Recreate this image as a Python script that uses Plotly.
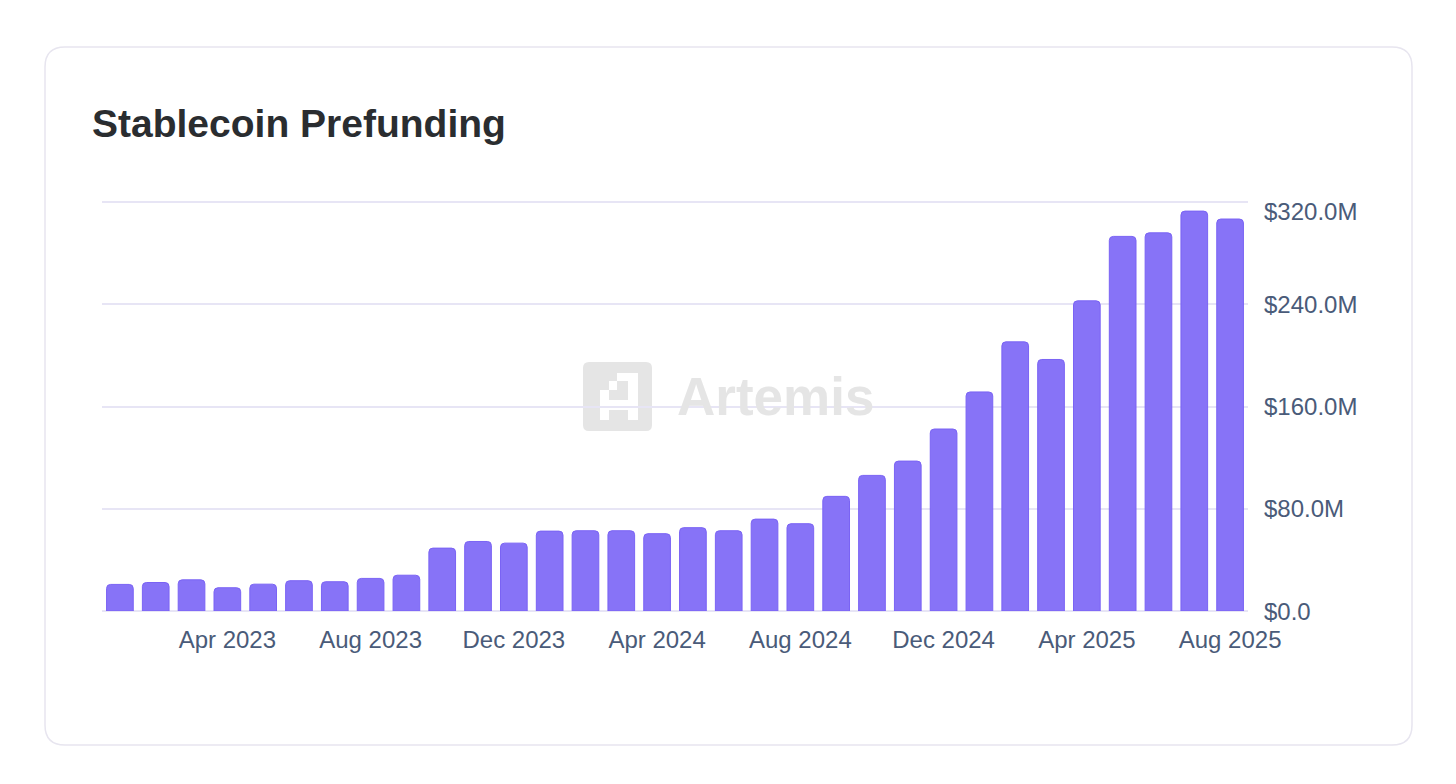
import plotly.graph_objects as go

# monthly stablecoin prefunding, USD millions
months = [
    "Jan 2023", "Feb 2023", "Mar 2023", "Apr 2023", "May 2023", "Jun 2023",
    "Jul 2023", "Aug 2023", "Sep 2023", "Oct 2023", "Nov 2023", "Dec 2023",
    "Jan 2024", "Feb 2024", "Mar 2024", "Apr 2024", "May 2024", "Jun 2024",
    "Jul 2024", "Aug 2024", "Sep 2024", "Oct 2024", "Nov 2024", "Dec 2024",
    "Jan 2025", "Feb 2025", "Mar 2025", "Apr 2025", "May 2025", "Jun 2025",
    "Jul 2025", "Aug 2025",
]
prefunding = [
    20.8, 22.3, 24.4, 18.2, 21.0, 23.7, 22.9, 25.5, 28.0, 49.2, 54.4, 53.1,
    62.5, 62.8, 62.8, 60.5, 65.2, 62.8, 71.9, 68.3, 89.7, 106.1, 117.3, 142.4,
    171.4, 210.6, 196.8, 242.7, 293.1, 295.9, 312.9, 306.7,
]
x_ticks = ["Apr 2023", "Aug 2023", "Dec 2023", "Apr 2024",
           "Aug 2024", "Dec 2024", "Apr 2025", "Aug 2025"]
y_ticks = [0, 80, 160, 240, 320]
y_tick_labels = ["$0.0", "$80.0M", "$160.0M", "$240.0M", "$320.0M"]

W, H = 1456, 784
L, R, T, B = 102, 1248, 201, 611  # plot area in pixels
Y_MAX = 320.8  # a hair above the top tick so its gridline is drawn
FONT = "Liberation Sans, Arial, sans-serif"


def px_x(x):
    return (x - L) / (R - L)


def px_y(y):
    return (B - y) / (B - T)


def rounded_rect(x0, y0, x1, y1, r):
    # pixel box -> svg path in paper coords
    rx = r / (R - L)
    ry = r / (B - T)
    a, b, c, d = px_x(x0), px_y(y1), px_x(x1), px_y(y0)  # left, bottom, right, top
    return (f"M {a + rx} {b} L {c - rx} {b} Q {c} {b} {c} {b + ry} "
            f"L {c} {d - ry} Q {c} {d} {c - rx} {d} L {a + rx} {d} "
            f"Q {a} {d} {a} {d - ry} L {a} {b + ry} Q {a} {b} {a + rx} {b} Z")


fig = go.Figure()
fig.add_trace(go.Bar(
    x=months, y=prefunding,
    marker=dict(color="#8773f7", line=dict(color="#7a63f4", width=1)),
    hovertemplate="%{x}: $%{y:.1f}M<extra></extra>",
))

shapes = [
    # card
    dict(type="path", xref="paper", yref="paper", layer="below",
         path=rounded_rect(45, 47, 1412, 745, 20),
         line=dict(color="#e7e5ef", width=1.5), fillcolor="white"),
    # watermark icon
    dict(type="path", xref="paper", yref="paper", layer="below",
         path=rounded_rect(583, 362, 652, 431, 6),
         line=dict(width=0), fillcolor="#e5e5e5"),
]
# white pixel "A" inside the icon
for x0, y0, x1, y1 in [(617, 373, 638, 381), (628, 373, 638, 420),
                       (609, 381, 617, 390), (600, 390, 609, 420),
                       (600, 400, 638, 410)]:
    shapes.append(dict(type="rect", xref="paper", yref="paper", layer="below",
                       x0=px_x(x0), x1=px_x(x1), y0=px_y(y1), y1=px_y(y0),
                       line=dict(width=0), fillcolor="white"))

annotations = [dict(text="<b>Artemis</b>", xref="paper", yref="paper",
                    x=px_x(775), y=px_y(396), xanchor="center", yanchor="middle",
                    showarrow=False, font=dict(family=FONT, size=53, color="#e5e5e5"))]
# y labels on the right; the top one is nudged down inside the card like the original
for val, lab in zip(y_ticks, y_tick_labels):
    annotations.append(dict(text=lab, xref="paper", yref="y", x=1, y=val,
                            xanchor="left", yanchor="middle", xshift=14,
                            yshift=-9 if val == y_ticks[-1] else 0,
                            showarrow=False, font=dict(family=FONT, size=24, color="#4a5b79")))

fig.update_layout(
    width=W, height=H,
    margin=dict(l=L, r=W - R, t=T, b=H - B, pad=0),
    paper_bgcolor="white", plot_bgcolor="rgba(0,0,0,0)",
    font=dict(family=FONT, size=24, color="#4a5b79"),
    showlegend=False,
    bargap=0.255,
    barcornerradius=4,
    shapes=shapes,
    annotations=annotations,
    title=dict(text="<b>Stablecoin Prefunding</b>", xref="container", yref="container",
               x=92 / W, xanchor="left", y=1 - 123 / H, yanchor="middle",
               font=dict(family=FONT, size=39, color="#2a2d30")),
    xaxis=dict(type="category", tickmode="array", tickvals=x_ticks, ticktext=x_ticks,
               showgrid=False, zeroline=False, showline=False,
               ticks="outside", ticklen=0, ticklabelstandoff=7),
    yaxis=dict(side="right", range=[0, Y_MAX], tickmode="array", tickvals=y_ticks,
               showticklabels=False, showgrid=True, gridcolor="#e7e5f5", gridwidth=1.5,
               zeroline=True, zerolinecolor="#e7e5f5", zerolinewidth=2,
               showline=False, ticks=""),
)

fig.write_html("out.html", config={"displayModeBar": False},
               post_script="document.body.style.margin='0';")
